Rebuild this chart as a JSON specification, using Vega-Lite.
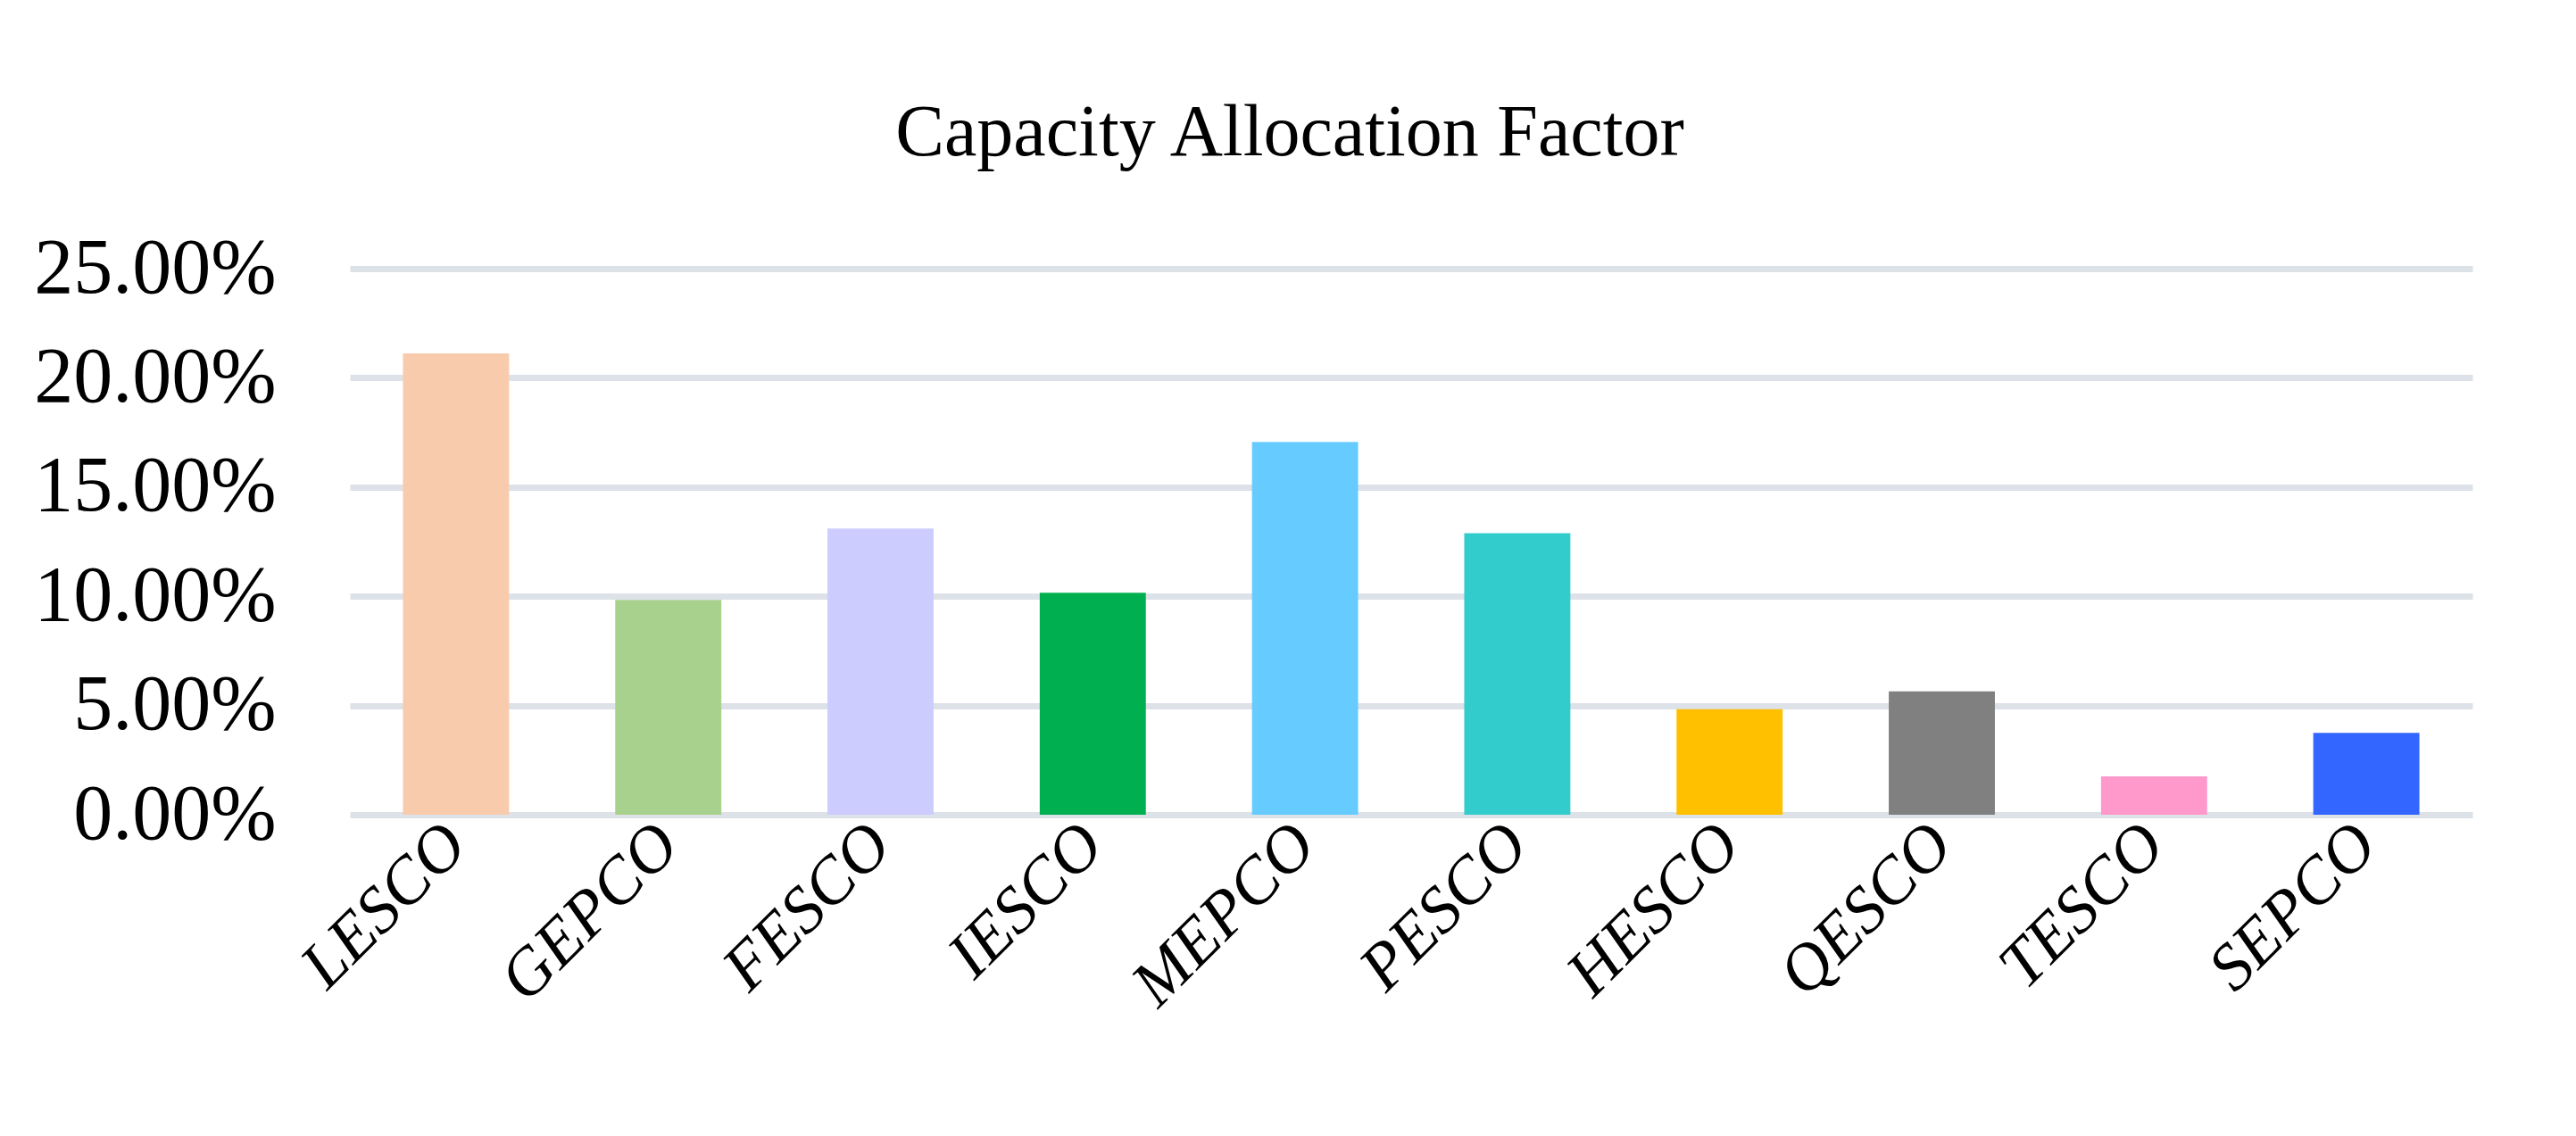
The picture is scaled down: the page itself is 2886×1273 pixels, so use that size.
{
  "$schema": "https://vega.github.io/schema/vega-lite/v6.json",
  "autosize": {"type": "none"},
  "width": 2378,
  "height": 612,
  "padding": {"left": 392, "top": 301, "right": 116, "bottom": 360},
  "background": "white",
  "title": {
    "text": "Capacity Allocation Factor",
    "font": "Liberation Serif",
    "fontSize": 82,
    "fontWeight": "normal",
    "color": "#000000",
    "anchor": "middle",
    "dx": -136,
    "offset": 66
  },
  "data": {
    "values": [
      {"company": "LESCO", "value": 0.2112},
      {"company": "GEPCO", "value": 0.0983},
      {"company": "FESCO", "value": 0.1310},
      {"company": "IESCO", "value": 0.1016},
      {"company": "MEPCO", "value": 0.1707},
      {"company": "PESCO", "value": 0.1289},
      {"company": "HESCO", "value": 0.0483},
      {"company": "QESCO", "value": 0.0565},
      {"company": "TESCO", "value": 0.0176},
      {"company": "SEPCO", "value": 0.0375}
    ]
  },
  "mark": {"type": "bar"},
  "encoding": {
    "x": {
      "field": "company",
      "type": "nominal",
      "sort": null,
      "scale": {"paddingInner": 0.5, "paddingOuter": 0.25},
      "axis": {
        "title": null,
        "labelAngle": -45,
        "labelAlign": "right",
        "labelBaseline": "middle",
        "labelFont": "Liberation Serif",
        "labelFontStyle": "italic",
        "labelFontSize": 74,
        "labelColor": "#000000",
        "labelPadding": 22,
        "labelLimit": 0,
        "labelOverlap": false,
        "ticks": false,
        "domain": false,
        "grid": false
      }
    },
    "y": {
      "field": "value",
      "type": "quantitative",
      "scale": {"domain": [0, 0.25]},
      "axis": {
        "title": null,
        "format": ".2%",
        "values": [0, 0.05, 0.1, 0.15, 0.2, 0.25],
        "labelFont": "Liberation Serif",
        "labelFontSize": 88,
        "labelColor": "#000000",
        "labelPadding": 83,
        "labelLimit": 0,
        "ticks": false,
        "domain": false,
        "grid": true,
        "gridColor": "#DDE1E8",
        "gridWidth": 7,
        "gridOpacity": 1
      }
    },
    "color": {
      "field": "company",
      "type": "nominal",
      "sort": null,
      "legend": null,
      "scale": {
        "domain": ["LESCO", "GEPCO", "FESCO", "IESCO", "MEPCO", "PESCO", "HESCO", "QESCO", "TESCO", "SEPCO"],
        "range": ["#F8CBAD", "#A9D18E", "#CCCCFF", "#00B050", "#66CCFF", "#33CCCC", "#FFC000", "#808080", "#FF99CC", "#3366FF"]
      }
    }
  },
  "config": {"view": {"stroke": null}}
}
